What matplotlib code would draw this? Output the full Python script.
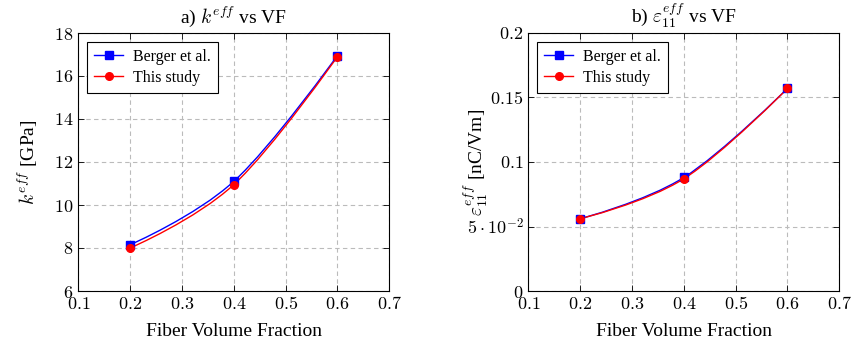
import matplotlib
matplotlib.use("Agg")
import matplotlib.pyplot as plt
from matplotlib.path import Path
from matplotlib.patches import PathPatch
from matplotlib.lines import Line2D
import numpy as np

plt.rcParams['font.family'] = ['Liberation Serif', 'DejaVu Serif']
plt.rcParams['mathtext.fontset'] = 'cm'

vf = [0.2, 0.4, 0.6]
k_berger = [8.15, 11.1, 16.95]
k_study = [8.0, 10.95, 16.9]
eps_berger = [0.056, 0.088, 0.157]
eps_study = [0.056, 0.087, 0.157]

x_ticks = [0.1, 0.2, 0.3, 0.4, 0.5, 0.6, 0.7]
k_ticks = [6, 8, 10, 12, 14, 16, 18]
eps_ticks = [0, 0.05, 0.1, 0.15, 0.2]
eps_labels = ['$0$', r'$5\cdot10^{-2}$', '$0.1$', '$0.15$', '$0.2$']

TENSION = 0.55 / 3


def smooth_path(xs, ys):
    # tikz-like "smooth" curve through the points
    pts = np.column_stack([xs, ys]).astype(float)
    n = len(pts)
    verts = [pts[0]]
    codes = [Path.MOVETO]
    for i in range(n - 1):
        p0 = pts[max(i - 1, 0)]
        p1 = pts[i]
        p2 = pts[i + 1]
        p3 = pts[min(i + 2, n - 1)]
        c1 = p1 + TENSION * (p2 - p0) if i > 0 else p1
        c2 = p2 - TENSION * (p3 - p1) if i < n - 2 else p2
        verts += [c1, c2, p2]
        codes += [Path.CURVE4] * 3
    return Path(verts, codes)


def draw_series(ax, xs, ys, color, marker):
    ax.add_patch(PathPatch(smooth_path(xs, ys), fill=False, edgecolor=color,
                           linewidth=1.0, zorder=3))
    ax.plot(xs, ys, linestyle='none', marker=marker, color=color,
            markersize=5.5, zorder=4)


fig = plt.figure(figsize=(8.54, 3.47), dpi=100)
W, H = 854, 347
axes = [fig.add_axes([78.3 / W, 56 / H, 311 / W, 258 / H]),
        fig.add_axes([528.3 / W, 56 / H, 311 / W, 258 / H])]

panels = [
    (k_berger, k_study, k_ticks, ['$%d$' % t for t in k_ticks],
     r'a) $k^{eff}$ vs VF', r'$k^{eff}$ [GPa]', -0.162),
    (eps_berger, eps_study, eps_ticks, eps_labels,
     r'b) $\varepsilon_{11}^{eff}$ vs VF', r'$\varepsilon_{11}^{eff}$ [nC/Vm]',
     -0.17),
]

for ax, (yb, ys, yt, ytl, title, ylabel, ylx) in zip(axes, panels):
    draw_series(ax, vf, yb, 'blue', 's')
    draw_series(ax, vf, ys, 'red', 'o')
    ax.set_xlim(x_ticks[0], x_ticks[-1])
    ax.set_ylim(yt[0], yt[-1])
    ax.set_xticks(x_ticks)
    ax.set_xticklabels(['$%.1f$' % t for t in x_ticks])
    ax.set_yticks(yt)
    ax.set_yticklabels(ytl)
    ax.grid(True, linestyle=(0, (4, 3)), color='#bbbbbb', linewidth=0.8)
    ax.set_axisbelow(True)
    ax.tick_params(direction='in', top=True, right=True, labelsize=13,
                   length=4, width=0.6)
    for s in ax.spines.values():
        s.set_linewidth(0.8)
    ax.set_title(title, fontsize=14, pad=7)
    ax.set_xlabel('Fiber Volume Fraction', fontsize=14, labelpad=7)
    ax.set_ylabel(ylabel, fontsize=14, va='center')
    ax.yaxis.set_label_coords(ylx, 0.5)
    handles = [Line2D([], [], color='blue', marker='s', markersize=5.5, lw=1.0),
               Line2D([], [], color='red', marker='o', markersize=5.5, lw=1.0)]
    leg = ax.legend(handles, ['Berger et al.', 'This study'], loc='upper left',
                    fancybox=False, edgecolor='black', framealpha=1,
                    fontsize=11.5, handlelength=1.8, handletextpad=0.6,
                    borderpad=0.45, labelspacing=0.3, borderaxespad=0.55)
    leg.get_frame().set_linewidth(0.8)

fig.savefig('out.png', dpi=100)
